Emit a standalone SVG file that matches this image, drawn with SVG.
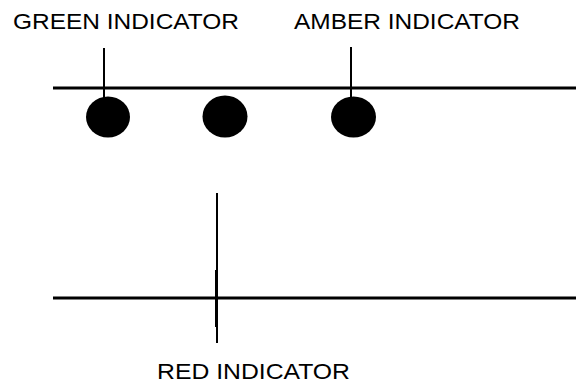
<svg xmlns="http://www.w3.org/2000/svg" width="576" height="386" viewBox="0 0 576 386">
<style>
.lbl{font-family:"Liberation Sans",Arial,sans-serif;font-size:22px;fill:#000}
.ln{stroke:#000;fill:none}
.dot{fill:#000}
</style>
<rect width="576" height="386" fill="#fff"/>
<g id="connectors">
<line class="ln" x1="53" y1="88" x2="576" y2="88" stroke-width="3"/>
<line class="ln" x1="53" y1="298" x2="576" y2="298" stroke-width="3"/>
<line class="ln" x1="104" y1="48" x2="104" y2="98" stroke-width="2"/>
<line class="ln" x1="351" y1="47" x2="351" y2="98" stroke-width="2"/>
<line class="ln" x1="217" y1="193" x2="217" y2="343" stroke-width="2"/>
<line class="ln" x1="216.5" y1="270" x2="216.5" y2="327" stroke-width="3"/>
</g>
<g id="green-lamp"><ellipse class="dot" cx="108" cy="117" rx="22" ry="20.5"/></g>
<g id="red-lamp"><ellipse class="dot" cx="225" cy="116.5" rx="22.5" ry="21"/></g>
<g id="amber-lamp"><ellipse class="dot" cx="353.5" cy="117" rx="22.5" ry="20.5"/></g>
<g id="green-label"><text class="lbl" x="13" y="28.5" textLength="226" lengthAdjust="spacingAndGlyphs">GREEN INDICATOR</text></g>
<g id="amber-label"><text class="lbl" x="294" y="28.5" textLength="226" lengthAdjust="spacingAndGlyphs">AMBER INDICATOR</text></g>
<g id="red-label"><text class="lbl" x="157" y="378.5" textLength="193" lengthAdjust="spacingAndGlyphs">RED INDICATOR</text></g>
</svg>
